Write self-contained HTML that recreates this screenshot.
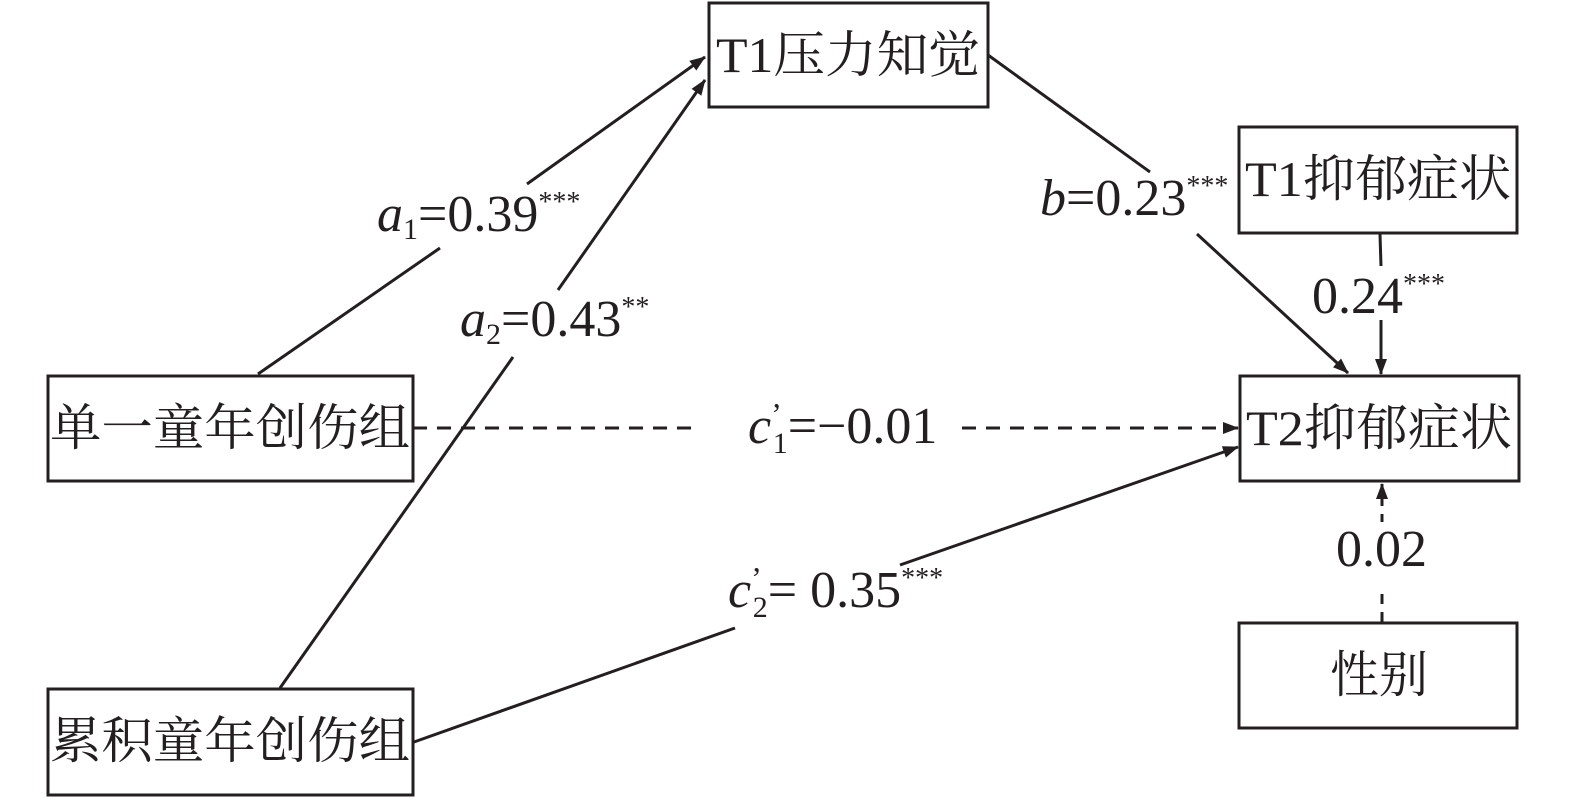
<!DOCTYPE html>
<html><head><meta charset="utf-8"><style>
html,body{margin:0;padding:0;background:#fff;}
svg{display:block;}
text{font-family:"Liberation Serif","Noto Serif CJK SC",serif;fill:#231f20;}
</style></head><body>
<svg width="1575" height="803" viewBox="0 0 1575 803" xmlns="http://www.w3.org/2000/svg">
<defs>
<marker id="arb" markerWidth="16" markerHeight="12" refX="15" refY="6" orient="auto" markerUnits="userSpaceOnUse" viewBox="0 0 16 12">
<path d="M0,0 L16,6 L0,12 Z" fill="#231f20"/>
</marker>
</defs>
<g fill="none" stroke="#231f20" stroke-width="3">
<rect x="709" y="3" width="279" height="104"/>
<rect x="1239" y="127" width="278" height="106"/>
<rect x="1240" y="376" width="279" height="105"/>
<rect x="1239" y="623" width="278" height="105"/>
<rect x="48" y="376" width="365" height="105"/>
<rect x="48" y="689" width="365" height="106"/>
</g>
<g stroke="#231f20" stroke-width="3" fill="none">
<line x1="258" y1="374" x2="440" y2="248"/>
<line x1="527" y1="184" x2="705" y2="57" marker-end="url(#arb)"/>
<line x1="280" y1="688" x2="513" y2="357"/>
<line x1="558" y1="290" x2="705" y2="80" marker-end="url(#arb)"/>
<line x1="988" y1="55" x2="1150" y2="172"/>
<line x1="1197" y1="234" x2="1348" y2="373" marker-end="url(#arb)"/>
<line x1="1380" y1="234" x2="1381" y2="266"/>
<line x1="1381" y1="320" x2="1381" y2="374" marker-end="url(#arb)"/>
<line x1="1382" y1="622" x2="1382" y2="590" stroke-dasharray="10,8"/>
<line x1="1382" y1="522" x2="1382" y2="484" stroke-dasharray="8,8" marker-end="url(#arb)"/>
<line x1="413" y1="428" x2="700" y2="428" stroke-dasharray="14,10"/>
<line x1="962" y1="428" x2="1238" y2="428" stroke-dasharray="14,10" marker-end="url(#arb)"/>
<line x1="414" y1="742" x2="735" y2="628"/>
<line x1="900" y1="565" x2="1238" y2="447" marker-end="url(#arb)"/>
</g>
<g font-size="50">
<text x="716" y="72" textLength="264" lengthAdjust="spacingAndGlyphs">T1压力知觉</text>
<text x="1245" y="196" textLength="266" lengthAdjust="spacingAndGlyphs">T1抑郁症状</text>
<text x="1246" y="445" textLength="266" lengthAdjust="spacingAndGlyphs">T2抑郁症状</text>
<text x="1330" y="692" textLength="98" lengthAdjust="spacingAndGlyphs">性别</text>
<text x="50" y="445" textLength="360" lengthAdjust="spacingAndGlyphs">单一童年创伤组</text>
<text x="50" y="758" textLength="360" lengthAdjust="spacingAndGlyphs">累积童年创伤组</text>
</g>
<g font-size="52">
<text x="377" y="231"><tspan font-style="italic">a</tspan><tspan font-size="30" dy="8">1</tspan><tspan dy="-8">=0.39</tspan><tspan font-size="28" dy="-20">***</tspan></text>
<text x="460" y="336"><tspan font-style="italic">a</tspan><tspan font-size="30" dy="8">2</tspan><tspan dy="-8">=0.43</tspan><tspan font-size="28" dy="-20">**</tspan></text>
<text x="1040" y="215"><tspan font-style="italic">b</tspan><tspan>=0.23</tspan><tspan font-size="28" dy="-20">***</tspan></text>
<text x="1312" y="313">0.24<tspan font-size="28" dy="-20">***</tspan></text>
<text x="1336" y="566">0.02</text>
<text x="748" y="443"><tspan font-style="italic">c</tspan><tspan font-size="32" dy="-18">’</tspan><tspan font-size="30" dx="-9" dy="28">1</tspan><tspan dy="-10">=−0.01</tspan></text>
<text x="728" y="607"><tspan font-style="italic">c</tspan><tspan font-size="32" dy="-18">’</tspan><tspan font-size="30" dx="-9" dy="28">2</tspan><tspan dy="-10">= 0.35</tspan><tspan font-size="28" dy="-20">***</tspan></text>
</g>
</svg>
</body></html>
